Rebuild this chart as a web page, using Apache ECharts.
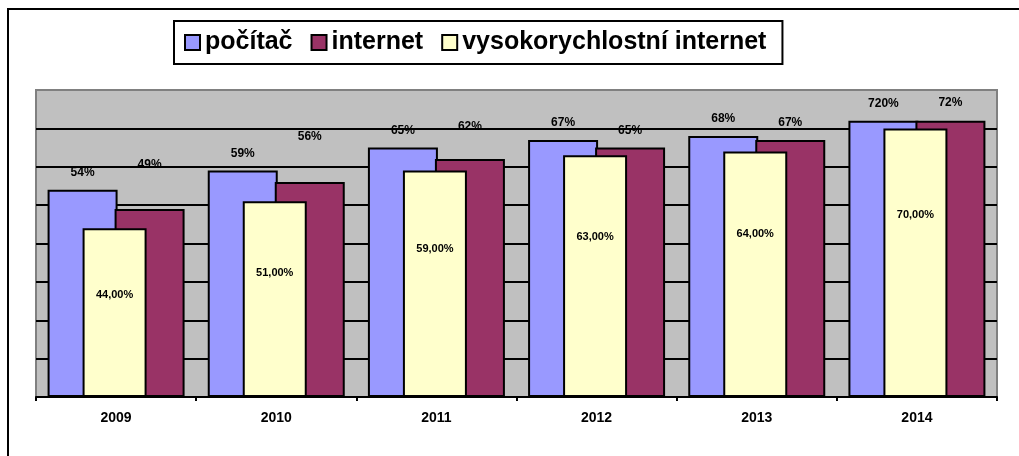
<!DOCTYPE html>
<html>
<head>
<meta charset="utf-8">
<script src="https://cdn.jsdelivr.net/npm/echarts@6.0.0/dist/echarts.min.js"></script>
<style>
  html, body { margin: 0; padding: 0; background: #fff; }
  #container { width: 1019px; height: 456px; }
</style>
</head>
<body>
<div id="container"></div>
<script>
var years = ['2009', '2010', '2011', '2012', '2013', '2014'];
var pocitac = [54, 59, 65, 67, 68, 72];
var pocitacLabels = ['54%', '59%', '65%', '67%', '68%', '720%'];
var internet = [49, 56, 62, 65, 67, 72];
var vysokorychlostni = [44, 51, 59, 63, 64, 70];
// how far the internet labels sit above their bars
var internetLift = [38, 39, 26, 11, 11, 12];

var dom = document.getElementById('container');
var myChart = echarts.init(dom);
var font = 'Liberation Sans, Arial, sans-serif';

var option = {
    animation: false,
    textStyle: { fontFamily: font },
    graphic: [{
        type: 'rect',
        shape: { x: 8, y: 9, width: 1200, height: 600 },
        style: { fill: 'none', stroke: '#000', lineWidth: 2 },
        silent: true
    }],
    legend: {
        left: 174,
        top: 21,
        padding: [9, 16, 9, 10],
        borderColor: '#000',
        borderWidth: 2,
        itemGap: 18,
        itemWidth: 15,
        itemHeight: 15,
        icon: 'rect',
        itemStyle: { borderColor: '#000', borderWidth: 2 },
        textStyle: { fontSize: 25, fontWeight: 'bold', color: '#000', fontFamily: font },
        data: ['počítač', 'internet', 'vysokorychlostní internet']
    },
    grid: {
        left: 36,
        right: 22,
        top: 90,
        bottom: 59,
        show: true,
        backgroundColor: '#C0C0C0',
        borderColor: '#808080',
        borderWidth: 2
    },
    xAxis: {
        type: 'category',
        data: years,
        axisLine: { lineStyle: { color: '#000', width: 2 } },
        axisTick: { show: true, length: 4, lineStyle: { color: '#000', width: 2 } },
        axisLabel: { fontSize: 14, fontWeight: 'bold', color: '#000', margin: 14 }
    },
    yAxis: {
        type: 'value',
        min: 0,
        max: 80,
        interval: 10,
        axisLabel: { show: false },
        axisLine: { show: false },
        axisTick: { show: false },
        splitLine: {
            show: true,
            showMaxLine: false,
            lineStyle: { color: '#000', width: 2 }
        }
    },
    series: [{
        name: 'počítač',
        type: 'bar',
        barWidth: 70,
        barGap: '-50%',
        z: 2,
        itemStyle: { color: '#9999FF', borderColor: '#000', borderWidth: 2 },
        label: {
            show: true,
            position: 'top',
            distance: 11,
            fontSize: 12,
            fontWeight: 'bold',
            color: '#000',
            formatter: function(p) { return pocitacLabels[p.dataIndex]; }
        },
        data: pocitac
    }, {
        name: 'vysokorychlostní internet',
        type: 'bar',
        barWidth: 64,
        barGap: '-50%',
        z: 4,
        itemStyle: { color: '#FFFFCC', borderColor: '#000', borderWidth: 2 },
        label: {
            show: true,
            position: ['50%', '20%'],
            offset: [0, 33],
            align: 'center',
            verticalAlign: 'middle',
            fontSize: 11,
            fontWeight: 'bold',
            color: '#000',
            formatter: function(p) { return p.value.toFixed(2).replace('.', ',') + '%'; }
        },
        data: vysokorychlostni
    }, {
        name: 'internet',
        type: 'bar',
        barWidth: 70,
        barGap: '-50%',
        z: 3,
        itemStyle: { color: '#993366', borderColor: '#000', borderWidth: 2 },
        label: {
            show: true,
            position: 'top',
            fontSize: 12,
            fontWeight: 'bold',
            color: '#000',
            formatter: '{c}%'
        },
        data: internet.map(function(v, i) {
            return { value: v, label: { distance: internetLift[i] } };
        })
    }]
};

if (option && typeof option === "object") {
    myChart.setOption(option, true);
}
</script>
</body>
</html>
